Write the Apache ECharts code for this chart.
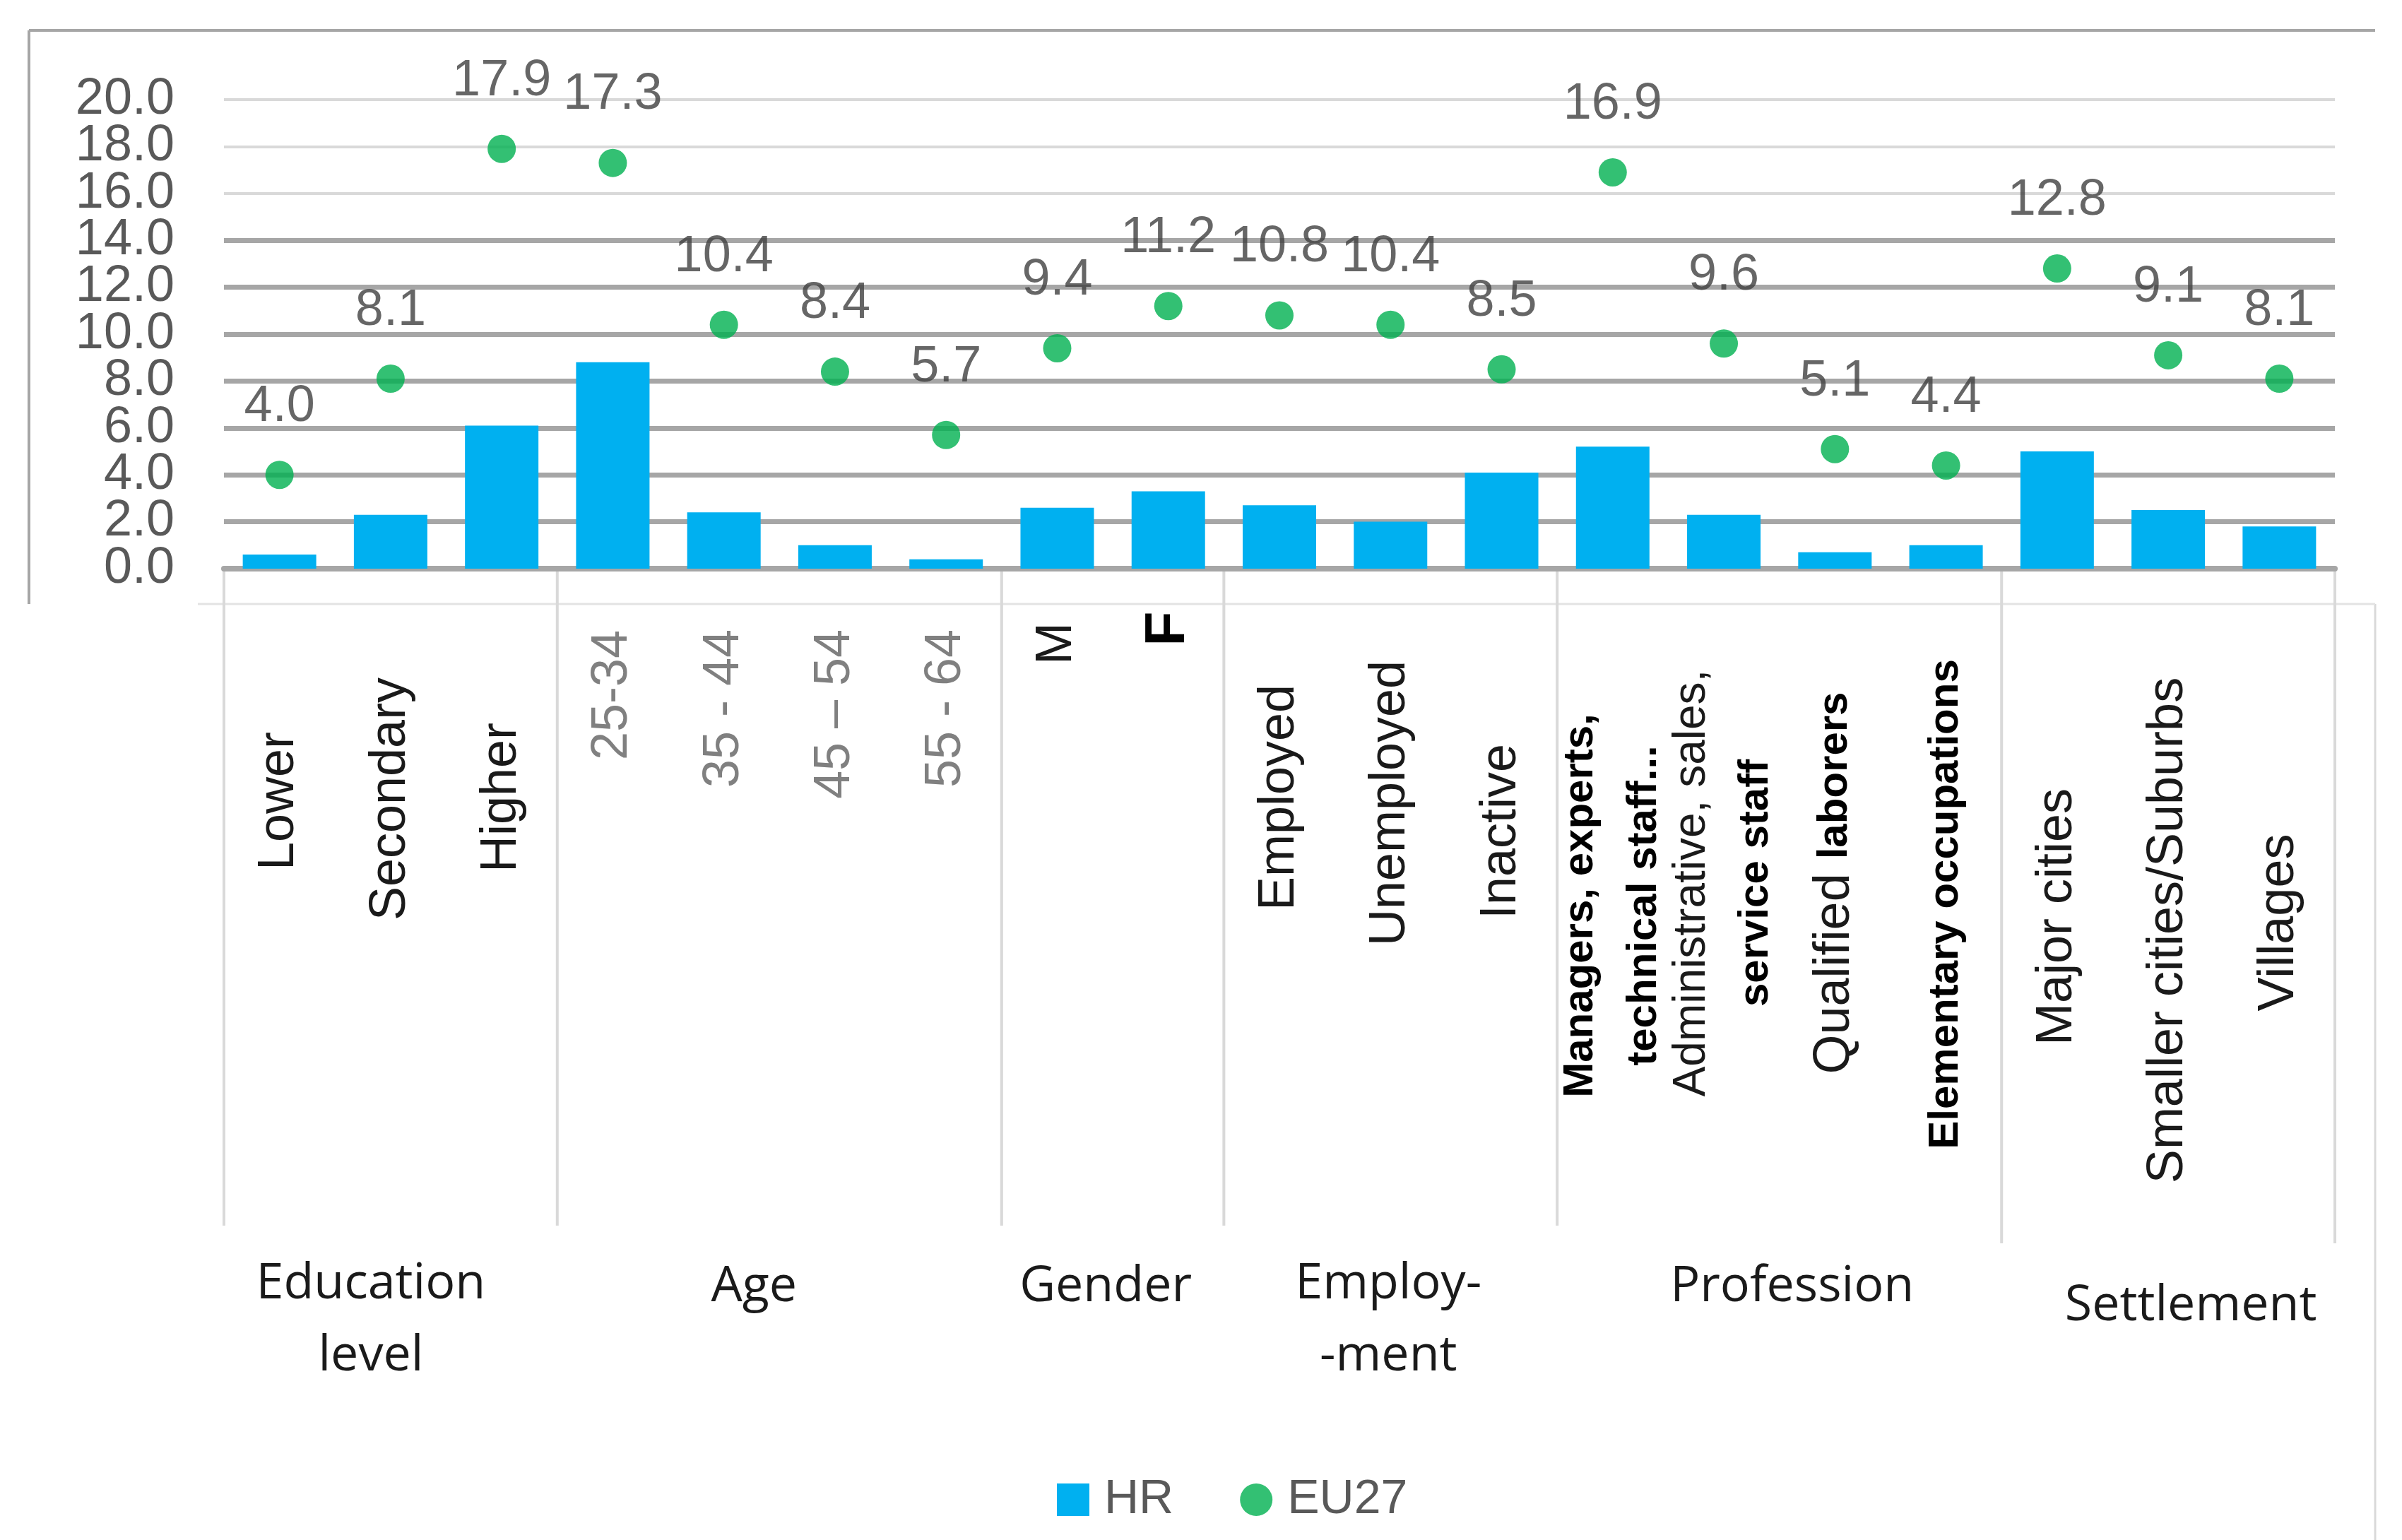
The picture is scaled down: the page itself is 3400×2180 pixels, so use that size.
<!DOCTYPE html>
<html><head><meta charset="utf-8">
<script src="https://cdn.jsdelivr.net/npm/echarts@6/dist/echarts.min.js"></script>
<style>html,body{margin:0;padding:0;background:#fff}#c{width:3400px;height:2180px}</style>
</head><body><div id="c"></div>
<script>
// ---------- data ----------
const categories = ['Lower','Secondary','Higher','25-34','35 - 44','45 \u2013 54','55 - 64','M','F',
  'Employed','Unemployed','Inactive','Managers, experts,\ntechnical staff...','Administrative, sales,\nservice staff',
  'Qualified laborers','Elementary occupations','Major cities','Smaller cities/Suburbs','Villages'];
const hrValues   = [0.6,2.3,6.1,8.8,2.4,1.0,0.4,2.6,3.3,2.7,2.0,4.1,5.2,2.3,0.7,1.0,5.0,2.5,1.8];
const eu27Values = [4.0,8.1,17.9,17.3,10.4,8.4,5.7,9.4,11.2,10.8,10.4,8.5,16.9,9.6,5.1,4.4,12.8,9.1,8.1];
const groups     = ['Education\nlevel','Age','Gender','Employ-\n-ment','Profession','Settlement'];
const groupSizes = [3,4,2,3,4,3];
const yMin = 0, yMax = 20, yInterval = 2;

// ---------- style / layout ----------
// per-line style keys (one entry per line of the label)
const labelStyle = [['n'],['n'],['n'],['g'],['g'],['g'],['g'],['n'],['F'],['n'],['n'],['n'],['b','b'],['r','b'],['mix'],['b'],['n'],['n'],['n']];
const labelCenterY = [1134,1131,1129,984,1003,1011,1003,911,890,1129,1137,1177,1282,1250,1250,1280,1298,1317,1306];
const labelBaseY = 1130, axisY = 805;
const groupOffsetX = [-28,-36,-10,-3,18,32];
const groupY = [1869,1822,1822,1869,1822,1849];

const baseStyles = {
  n:{fontFamily:'Liberation Sans',fontSize:72,color:'#1a1a1a'},
  r:{fontFamily:'Liberation Sans',fontSize:64,color:'#1a1a1a'},
  g:{fontFamily:'Liberation Sans',fontSize:72,color:'#808080'},
  b:{fontFamily:'Liberation Sans',fontSize:60,fontWeight:'bold',color:'#000'},
  F:{fontFamily:'Liberation Sans',fontSize:80,fontWeight:'bold',color:'#000'}
};
const rich = {};
function keyFor(s,i,pos){
  const k = s+'_'+i+'_'+pos;
  if(!rich[k]){
    const d = labelCenterY[i]-labelBaseY;
    let pl=0, pr=0;
    if(d>0 && (pos==='l'||pos==='o')) pr = 2*d;
    if(d<0 && (pos==='f'||pos==='o')) pl = -2*d;
    rich[k] = Object.assign({}, baseStyles[s], {padding:[0,pr,0,pl], lineHeight:90});
  }
  return k;
}
const labelTexts = categories.map((c,i)=>{
  const lines = c.split('\n');
  return lines.map((line,j)=>{
    const s = labelStyle[i][j];
    if(s==='mix'){
      const p = line.lastIndexOf(' ');
      const a = line.slice(0,p+1), b = line.slice(p+1);
      return '{'+keyFor('n',i,'f')+'|'+a+'}{'+keyFor('b',i,'l')+'|'+b+'}';
    }
    return '{'+keyFor(s,i,'o')+'|'+line+'}';
  }).join('\n');
});

const darkColors = [], lightColors = [];
for(let v=yMin; v<=yMax; v+=yInterval){
  darkColors.push(v<=14 ? '#a6a6a6' : 'rgba(0,0,0,0)');
  lightColors.push(v<=14 ? 'rgba(0,0,0,0)' : '#d9d9d9');
}
const yLabelStyle = {show:true, showMinLabel:true, showMaxLabel:true, hideOverlap:false,
  fontFamily:'Liberation Sans', fontSize:72, color:'#595959', margin:70};

const chart = echarts.init(document.getElementById('c'), null, {renderer:'canvas'});
const option = {
  animation:false,
  backgroundColor:'#fff',
  grid:{left:317, right:95, top:141, bottom:2180-axisY, containLabel:false, outerBoundsMode:'none'},
  legend:{
    left:1491, top:2084, itemWidth:46, itemHeight:46, itemGap:94,
    textStyle:{fontFamily:'Liberation Sans', fontSize:68, color:'#595959', padding:[0,0,0,16]},
    data:[{name:'HR', icon:'rect'},{name:'EU27', icon:'circle'}]
  },
  xAxis:{
    type:'category', data:categories,
    axisLine:{show:true, lineStyle:{color:'#a6a6a6', width:8}},
    axisTick:{show:false},
    axisLabel:{
      interval:0, rotate:90, margin:labelBaseY-axisY, align:'center', verticalAlign:'middle',
      formatter:(v,i)=>labelTexts[i], rich:rich
    },
    splitLine:{show:false}
  },
  yAxis:[
    {type:'value', position:'left', offset:0, min:yMin, max:yMax, interval:yInterval,
     axisLine:{show:false}, axisTick:{show:false},
     axisLabel:Object.assign({}, yLabelStyle, {formatter:v=>(Math.round(v)%4===0 ? v.toFixed(1) : '')}),
     splitLine:{show:true, lineStyle:{color:darkColors, width:7}}},
    {type:'value', position:'left', offset:0, min:yMin, max:yMax, interval:yInterval,
     axisLine:{show:false}, axisTick:{show:false},
     axisLabel:Object.assign({}, yLabelStyle, {formatter:v=>(Math.round(v)%4===2 ? v.toFixed(1) : '')}),
     splitLine:{show:true, lineStyle:{color:lightColors, width:4}}}
  ],
  series:[
    {name:'HR', type:'bar', data:hrValues, barWidth:104, itemStyle:{color:'#00b0f0'}, z:3},
    {name:'EU27', type:'scatter', data:eu27Values, symbol:'circle', symbolSize:40,
     itemStyle:{color:'#00b050'}, z:4,
     label:{show:true, position:'top', distance:40, fontFamily:'Liberation Sans', fontSize:72, color:'#404040',
            formatter:p=>p.value.toFixed(1)}}
  ]
};
chart.setOption(option);

// decorations computed from the axis
const c0 = chart.convertToPixel({xAxisIndex:0}, 0);
const c1 = chart.convertToPixel({xAxisIndex:0}, 1);
const band = c1 - c0;
const left0 = c0 - band/2;
const gfx = [];
const lineEl = (x1,y1,x2,y2,color,w)=>({type:'line', silent:true, z:0,
  shape:{x1,y1,x2,y2}, style:{stroke:color, lineWidth:w}});
gfx.push(lineEl(41,43,3362,43,'#a6a6a6',4));
gfx.push(lineEl(41,43,41,855,'#a6a6a6',4));
gfx.push(lineEl(3362,855,3362,2180,'#d9d9d9',3));
gfx.push(lineEl(280,855,3362,855,'#e3e3e3',3));
let acc = 0;
const bounds = [left0];
groupSizes.forEach(s=>{acc+=s; bounds.push(left0+acc*band);});
bounds.forEach((x,k)=>{
  gfx.push(lineEl(x,axisY,x,(k>=5?1760:1735),'#d9d9d9',4));
});
groups.forEach((g,k)=>{
  const cx = (bounds[k]+bounds[k+1])/2 + groupOffsetX[k];
  gfx.push({type:'text', silent:true, x:cx, y:groupY[k],
    style:{text:g, fontFamily:'Open Sans', fontSize:70, fill:'#1a1a1a', align:'center', verticalAlign:'middle', lineHeight:102}});
});
chart.setOption({graphic:gfx});
</script></body></html>
